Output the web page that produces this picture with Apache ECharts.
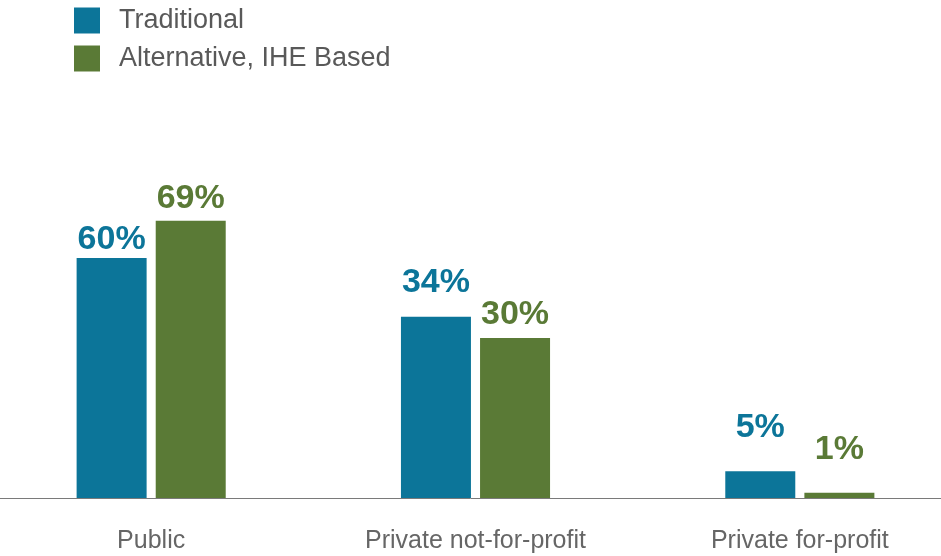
<!DOCTYPE html>
<html>
<head>
<meta charset="utf-8">
<script src="https://cdn.jsdelivr.net/npm/echarts@6/dist/echarts.min.js"></script>
<style>html,body{margin:0;padding:0;background:#fff}#c{width:941px;height:556px}</style>
</head>
<body>
<div id="c"></div>
<script>
// Data
const categories = ['Public', 'Private not-for-profit', 'Private for-profit'];
const seriesNames = ['Traditional', 'Alternative, IHE Based'];
// bar heights as drawn in the picture (percent units)
const traditional = [45, 34, 5];
const alternative = [52, 30, 1];
// value labels printed above the bars
const traditionalLabels = ['60%', '34%', '5%'];
const alternativeLabels = ['69%', '30%', '1%'];

// styles (kept apart from data)
const BLUE = '#0c7599';
const GREEN = '#5a7a36';
const FONT = '"Liberation Sans", Arial, Helvetica, sans-serif';
const tradLabelGap = [1, 17, 27];
const altLabelGap = [5, 6, 26];

function build(values, labels, gaps) {
  return values.map((v, i) => ({
    value: v,
    label: { distance: gaps[i], formatter: labels[i] }
  }));
}

const chart = echarts.init(document.getElementById('c'));
chart.setOption({
  animation: false,
  legend: {
    orient: 'vertical',
    left: 74, top: 7, padding: 0,
    itemWidth: 26, itemHeight: 26, itemGap: 11,
    icon: 'rect',
    textStyle: { fontFamily: FONT, fontSize: 27, color: '#595959', padding: [0, 0, 0, 14] },
    data: seriesNames
  },
  grid: { left: -11, width: 973, top: 98, bottom: 58, containLabel: false, outerBoundsMode: 'none' },
  xAxis: {
    type: 'category',
    data: categories,
    axisLine: { lineStyle: { color: '#7a7a7a', width: 1 } },
    axisTick: { show: false },
    axisLabel: { fontFamily: FONT, fontSize: 25, color: '#666', margin: 31 }
  },
  yAxis: { type: 'value', min: 0, max: 75, show: false, splitLine: { show: false } },
  series: [
    {
      name: seriesNames[0], type: 'bar', barWidth: 70, barGap: '13%',
      itemStyle: { color: BLUE },
      label: { show: true, position: 'top', fontFamily: FONT, fontSize: 34, fontWeight: 'bold', color: BLUE },
      data: build(traditional, traditionalLabels, tradLabelGap)
    },
    {
      name: seriesNames[1], type: 'bar', barWidth: 70, barGap: '13%',
      itemStyle: { color: GREEN },
      label: { show: true, position: 'top', fontFamily: FONT, fontSize: 34, fontWeight: 'bold', color: GREEN },
      data: build(alternative, alternativeLabels, altLabelGap)
    }
  ]
});
</script>
</body>
</html>
